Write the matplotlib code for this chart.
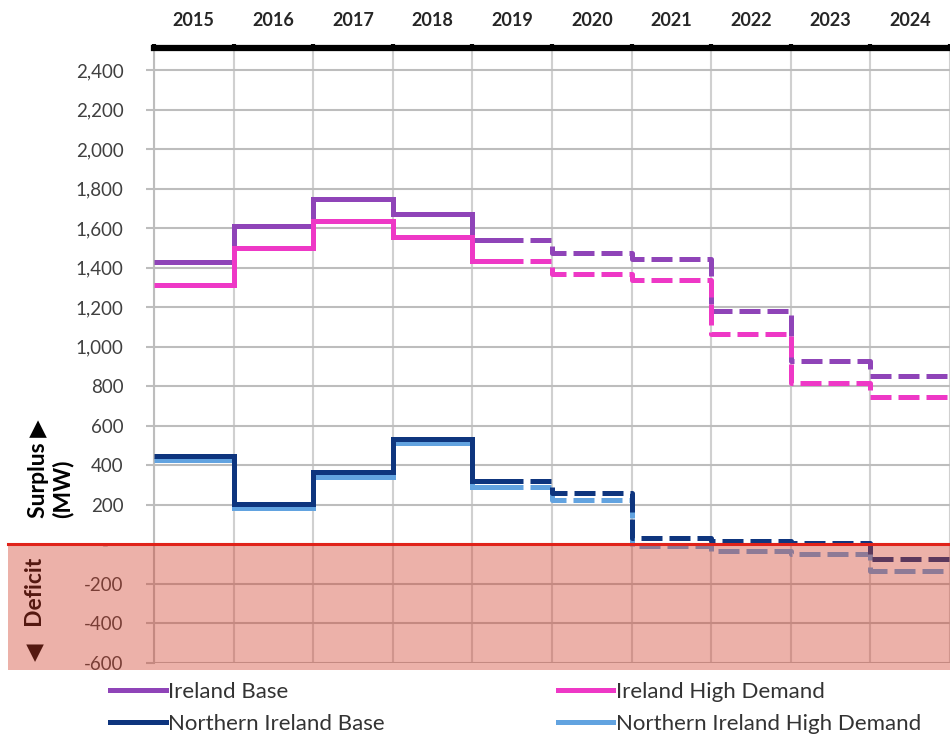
import matplotlib
matplotlib.use("Agg")
import matplotlib.pyplot as plt
from matplotlib.patches import Rectangle
from matplotlib.lines import Line2D
from matplotlib.ticker import FixedLocator, FuncFormatter
import matplotlib.transforms as mtransforms

plt.rcParams['font.family'] = ['Lato', 'DejaVu Sans']

# ---- data ----
years = ["2015", "2016", "2017", "2018", "2019", "2020", "2021", "2022", "2023", "2024"]
ireland_base = [1430, 1613, 1750, 1670, 1540, 1476, 1445, 1180, 929, 852]
ireland_high = [1315, 1500, 1637, 1557, 1432, 1370, 1336, 1064, 817, 746]
ni_base = [446, 203, 366, 533, 323, 262, 35, 17, 7, -74]
ni_high = [427, 183, 340, 511, 289, 225, -7, -33, -50, -135]
series_labels = ["Ireland Base", "Ireland High Demand",
                 "Northern Ireland Base", "Northern Ireland High Demand"]
y_ticks = list(range(-600, 2401, 200))

colors = ["#8F44B8", "#EE38C6", "#0E357E", "#62A3E0"]
series = [ireland_base, ireland_high, ni_base, ni_high]

# ---- figure ----
W, H = 950, 738
fig = plt.figure(figsize=(W / 100, H / 100), dpi=100)
ax_left, ax_right = 154 / W, 1.0
ax_top, ax_bot = 1 - 48 / H, 1 - 663 / H
ax = fig.add_axes([ax_left, ax_bot, ax_right - ax_left, ax_top - ax_bot])

n = len(years)
xmax = (W - 154) / 80.3
ax.set_xlim(0, xmax)
ax.set_ylim(-600, 2512)

split = 4.64   # solid part ends inside 2019
gap = 0.08

lw = 3.6
order = [0, 1, 3, 2]
for i in order:
    vals = series[i]
    xs = list(range(n)) + [n]
    ys = list(vals) + [vals[-1]]
    xs_s = [x for x in xs if x < split] + [split]
    ys_s = [ys[j] for j, x in enumerate(xs) if x < split] + [vals[int(split)]]
    ax.step(xs_s, ys_s, where='post', color=colors[i], lw=lw, zorder=3,
            solid_capstyle='butt', solid_joinstyle='miter')
    start = split + gap
    xs_d = [start] + [x for x in xs if x > start]
    ys_d = [vals[int(start)]] + [ys[j] for j, x in enumerate(xs) if x > start]
    ax.step(xs_d, ys_d, where='post', color=colors[i], lw=lw, zorder=3,
            dashes=(4.2, 1.4), dash_capstyle='butt')

# grid
ax.yaxis.set_major_locator(FixedLocator(y_ticks))
ax.grid(axis='y', color='#BDBDBD', lw=1.5, zorder=1)
for x in range(0, n + 1):
    ax.axvline(x, color='#D0D0D0', lw=1.5, zorder=1)

def fmt(v, pos):
    if v == 0:
        return "-   "
    return f"{int(v):,}"
ax.yaxis.set_major_formatter(FuncFormatter(fmt))

# top x axis
ax.xaxis.tick_top()
ax.set_xticks(range(0, n + 1))
ax.set_xticklabels([])
ax.set_xticks([i + 0.5 for i in range(n)], minor=True)
ax.set_xticklabels(years, minor=True)
ax.tick_params(axis='x', which='major', direction='out', length=3, width=3,
               color='black', top=True, bottom=False)
ax.tick_params(axis='x', which='minor', length=0, pad=14, labelsize=13,
               labelcolor='#262626', top=True, bottom=False)
for lab in ax.get_xticklabels(minor=True):
    lab.set_fontweight('bold')

ax.tick_params(axis='y', which='major', direction='out', length=6, width=1.5,
               color='#BDBDBD', pad=16, labelsize=13.5, labelcolor='#404040')

for s in ['right', 'bottom']:
    ax.spines[s].set_visible(False)
ax.spines['left'].set_color('#BDBDBD')
ax.spines['left'].set_linewidth(1.5)
ax.spines['top'].set_color('black')
ax.spines['top'].set_linewidth(4.5)
ax.spines['top'].set_zorder(5)

# axis titles
fig.text(51 / W, 1 - 518 / H, "Surplus \u25B6\n(MW)", rotation=90,
         ha='center', va='bottom', multialignment='left',
         fontsize=16.5, fontweight='bold', color='black', linespacing=1.15)
fig.text(35 / W, 1 - 661 / H, "\u25C0   Deficit", rotation=90,
         ha='center', va='bottom', fontsize=16.5, fontweight='bold',
         color='black')

# deficit overlay
trans = mtransforms.blended_transform_factory(fig.transFigure, ax.transData)
bottom_val = -636
rect = Rectangle((8 / W, bottom_val), 1 - 8 / W, 0 - bottom_val,
                 transform=trans, facecolor=(0.82, 0.24, 0.16), alpha=0.4,
                 edgecolor='none', zorder=10)
fig.add_artist(rect)
zero_line = Line2D([8 / W, 1.0], [0, 0], transform=trans, color='#E0231A',
                   lw=2.2, zorder=11)
fig.add_artist(zero_line)

# legend
handles = [Line2D([], [], color=colors[i], lw=3.6) for i in range(4)]
leg_handles = [handles[0], handles[2], handles[1], handles[3]]
leg_labels = [series_labels[0], series_labels[2], series_labels[1], series_labels[3]]
fig.legend(leg_handles, leg_labels, ncol=2, loc='upper left',
           bbox_to_anchor=(110 / W, 1 - 682 / H), frameon=False,
           fontsize=16, handlelength=2.5, handletextpad=0.1,
           columnspacing=7.8, labelspacing=0.55, borderpad=0,
           borderaxespad=0, labelcolor='#333333')

fig.savefig("out.png", dpi=100)
